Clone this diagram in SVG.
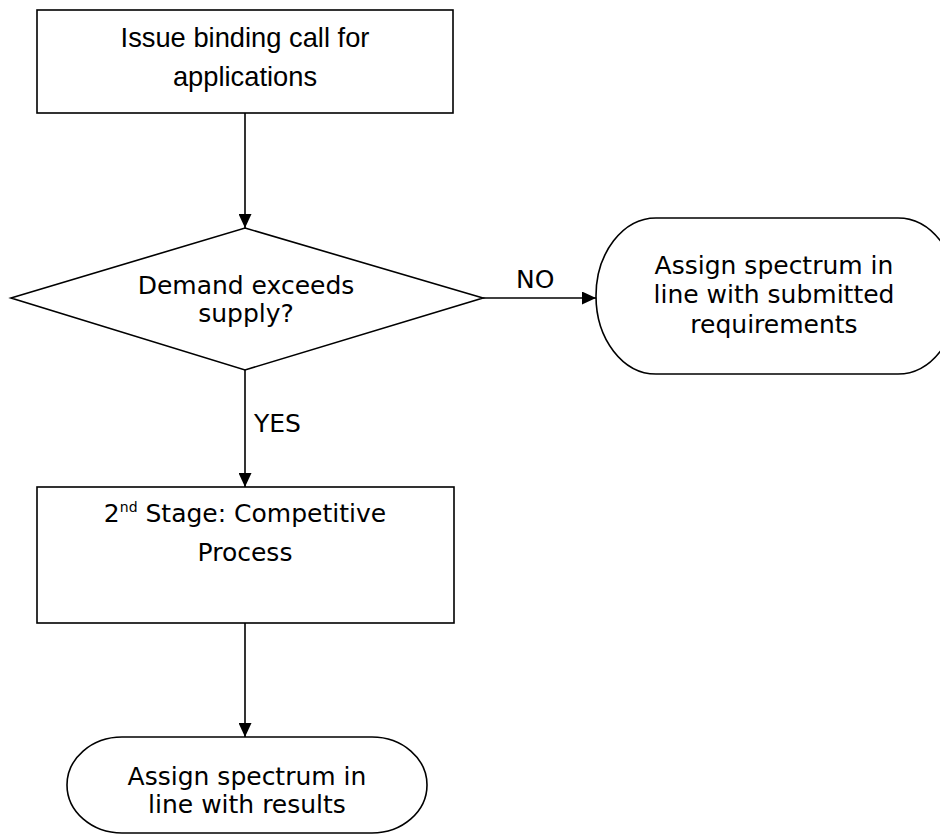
<svg xmlns="http://www.w3.org/2000/svg" width="940" height="835" viewBox="0 0 940 835">
<style>
.shape{fill:#fff;stroke:#000;stroke-width:1.6}
.line{fill:none;stroke:#000;stroke-width:1.6}
.ar{font-family:"Liberation Sans",Arial,sans-serif;font-size:27.3px;fill:#000;text-anchor:middle}
.dv{font-family:"DejaVu Sans",Verdana,sans-serif;font-size:25px;fill:#000;text-anchor:middle}
.lbl{font-family:"DejaVu Sans",Verdana,sans-serif;font-size:25px;fill:#000}
</style>
<defs>
<marker id="arrow" markerWidth="14" markerHeight="13" refX="14" refY="6.5" orient="auto" markerUnits="userSpaceOnUse">
<path d="M0,0 L14,6.5 L0,13 Z" fill="#000"/>
</marker>
</defs>
<g id="connectors">
<line class="line" x1="245" y1="113" x2="245" y2="228" marker-end="url(#arrow)"/>
<line class="line" x1="483" y1="298" x2="596" y2="298" marker-end="url(#arrow)"/>
<text class="lbl" x="516" y="288">NO</text>
<line class="line" x1="245" y1="370" x2="245" y2="487" marker-end="url(#arrow)"/>
<text class="lbl" x="254" y="432">YES</text>
<line class="line" x1="245" y1="623" x2="245" y2="737" marker-end="url(#arrow)"/>
</g>
<g id="issue">
<rect class="shape" x="37" y="10" width="416" height="103"/>
<text class="ar" x="245" y="47">Issue binding call for</text>
<text class="ar" x="245" y="86">applications</text>
</g>
<g id="decision">
<polygon class="shape" points="245,228 483,298 245,370 11,298"/>
<text class="dv" x="246" y="294">Demand exceeds</text>
<text class="dv" x="246" y="322">supply?</text>
</g>
<g id="assign-submitted">
<rect class="shape" x="596" y="218" width="362" height="156" rx="60" ry="78"/>
<text class="dv" x="774" y="274">Assign spectrum in</text>
<text class="dv" x="774" y="303">line with submitted</text>
<text class="dv" x="774" y="333">requirements</text>
</g>
<g id="stage2">
<rect class="shape" x="37" y="487" width="417" height="136"/>
<text class="dv" x="245" y="522">2<tspan font-size="14" dy="-10">nd</tspan><tspan dy="10"> Stage: Competitive</tspan></text>
<text class="dv" x="245" y="561">Process</text>
</g>
<g id="assign-results">
<rect class="shape" x="67" y="737" width="360" height="96" rx="55" ry="48"/>
<text class="dv" x="247" y="785">Assign spectrum in</text>
<text class="dv" x="247" y="813">line with results</text>
</g>
</svg>
